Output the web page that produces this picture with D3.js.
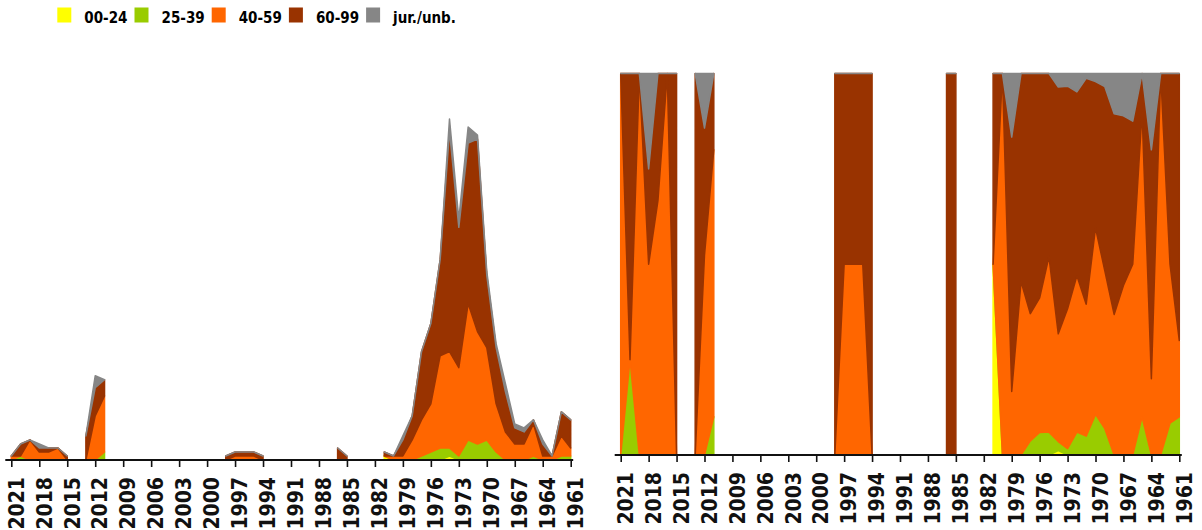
<html>
<head>
<script src='https://d3js.org/d3.v7.min.js'></script>
<style>
body {margin:0; background:#fff;}
text {font-family:'DejaVu Sans Condensed','DejaVu Sans'; font-stretch:condensed; font-weight:bold;}
</style>
</head>
<body>
<svg width="1202" height="530"></svg>
<script>
// years go from 2021 back to 1961, null = no data that year
var years = d3.range(2021, 1960, -1);

var keys = ["00-24", "25-39", "40-59", "60-99", "jur./unb."];
var colors = ["#ffff00", "#99cc00", "#ff6600", "#993300", "#868686"];

var g = null;
var a00_24 = [0,0,0,0,0,0,0, g, 0,0,0, g,g,g,g,g,g,g,g,g,g,g,g, 0,0,0,0,0, g,g,g,g,g,g,g, 0,0, g,g,g,
              1,0,0,0,0,0,0,1,0,0,0,0,0,0,0,0,0,0,0,0,0];
var a25_39 = [0,1,0,0,0,0,0, g, 0,0,2, g,g,g,g,g,g,g,g,g,g,g,g, 0,0,0,0,0, g,g,g,g,g,g,g, 0,0, g,g,g,
              0,0,0,0,1,2,3,2,1,5,4,5,2,0,0,0,1,0,0,1,1];
var a40_59 = [1,0,5,2,2,3,0, g, 0,11,14, g,g,g,g,g,g,g,g,g,g,g,g, 0,1,1,1,0, g,g,g,g,g,g,g, 0,0, g,g,g,
              0,1,1,5,9,12,23,24,22,34,28,23,12,7,4,4,8,1,1,5,2];
var a60_99 = [0,3,0,1,1,0,1, g, 6,7,4, g,g,g,g,g,g,g,g,g,g,g,g, 1,1,1,1,1, g,g,g,g,g,g,g, 3,1, g,g,g,
              1,0,4,6,17,20,24,55,35,40,48,18,14,10,4,3,1,3,0,6,7];
var aJur   = [0,0,0,1,0,0,0, g, 0,3,0, g,g,g,g,g,g,g,g,g,g,g,g, 0,0,0,0,0, g,g,g,g,g,g,g, 0,0, g,g,g,
              0,0,1,0,0,0,0,3,2,4,1,1,1,2,1,1,0,1,0,0,0];

var tickYears = d3.range(2021, 1960, -3);

var series = [a00_24, a25_39, a40_59, a60_99, aJur];
var rows = years.map(function(y, i) {
    var r = {year: y, has: a60_99[i] !== null};
    keys.forEach(function(k, j) { r[k] = series[j][i] || 0; });
    r.total = d3.sum(keys, function(k) { return r[k]; });
    return r;
});

var svg = d3.select("svg");

// legend
var leg = svg.append("g");
keys.forEach(function(k, i) {
    leg.append("rect").attr("x", 57.3 + i * 77.2).attr("y", 7.5)
        .attr("width", 14).attr("height", 15).style("fill", colors[i]);
    leg.append("text").attr("x", 84.3 + i * 77.2).attr("y", 22.5)
        .style("font-size", "15px").text(k);
});

function panel(x0, x1, yBase, yTop, offset, ymax) {
    var x = d3.scaleLinear().domain([2021, 1961]).range([x0, x1]);
    var y = d3.scaleLinear().domain([0, ymax]).range([yBase, yTop]);

    var stack = d3.stack().keys(keys).offset(offset);
    var layers = stack(rows);

    var area = d3.area()
        .defined(function(d) { return d.data.has; })
        .x(function(d) { return x(d.data.year); })
        .y0(function(d) { return y(d[0]); })
        .y1(function(d) { return y(d[1]); });

    svg.append("g").selectAll("path")
        .data(layers)
        .enter()
        .append("path")
        .attr("d", area)
        .style("fill", function(d, i) { return colors[i]; })
        .style("stroke", function(d, i) { return colors[i]; })
        .style("stroke-width", 1.5)
        .style("stroke-linejoin", "round");

    var ax = svg.append("g")
        .attr("transform", "translate(0," + yBase + ")")
        .call(d3.axisBottom(x).tickValues(tickYears).tickFormat(d3.format("d")).tickSizeOuter(0).tickSize(7));
    ax.select(".domain").remove();
    ax.selectAll(".tick line").style("stroke", "#111").style("stroke-width", 1.6);
    ax.append("line").attr("x1", x0 - 6).attr("x2", x1 + 2.5)
        .style("stroke", "#111").style("stroke-width", 2);
    ax.selectAll(".tick text")
        .attr("transform", "rotate(-90)")
        .attr("x", -17).attr("y", 0).attr("dy", "0.56em")
        .style("text-anchor", "end")
        .style("font-size", "21px")
        .style("fill", "#111");
}

panel(11.3, 570.7, 460, 119, d3.stackOffsetNone, d3.max(rows, function(d) { return d.total; }));
panel(620.7, 1179.3, 455, 73.5, d3.stackOffsetExpand, 1);
</script>
</body>
</html>
